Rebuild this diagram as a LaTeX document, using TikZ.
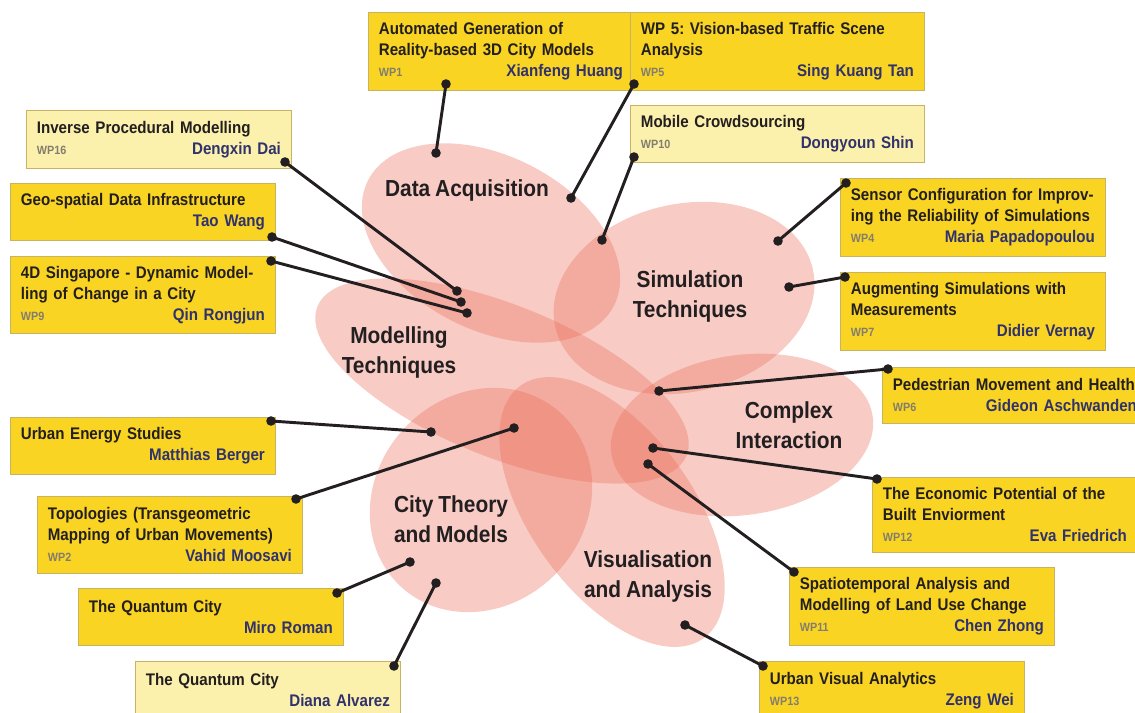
\documentclass[tikz,border=0pt]{standalone}
\usepackage{fontspec}
\setmainfont{Liberation Sans}[FakeStretch=0.9, WordSpace=0.85]
\frenchspacing
\definecolor{ybright}{RGB}{249,212,35}
\definecolor{ylight}{RGB}{252,241,172}
\definecolor{yborder}{RGB}{200,178,100}
\definecolor{navyc}{RGB}{48,50,110}
\definecolor{wpgray}{RGB}{130,125,110}
\definecolor{blobc}{RGB}{236,110,90}
\definecolor{ink}{RGB}{35,31,32}
\newcommand\wplabel[1]{{\color{wpgray}\fontsize{9}{10}\selectfont #1}}
\newcommand\wpname[1]{{\color{navyc}#1}}
\tikzset{
  blob/.style={fill=blobc, fill opacity=0.35},
  ybox/.style={draw=yborder, line width=0.6pt, fill=ybright, anchor=north west,
    inner xsep=7.875pt, inner ysep=0pt, align=left, text=ink,
    font=\fontsize{12.6}{15.75}\selectfont\bfseries\frenchspacing},
  lbox/.style={ybox, fill=ylight},
  wA/.style={minimum width=198.75pt, text width=183pt},
  wB/.style={minimum width=220.5pt, text width=204.75pt},
  lab/.style={align=center, text=ink, font=\fontsize{17.4}{22.5}\selectfont\bfseries},
  dot/.style={circle, fill=ink, inner sep=0pt, minimum size=7.2pt},
  conn/.style={draw=ink, line width=2.2pt},
}
\begin{document}
\begin{tikzpicture}[x=0.75pt,y=-0.75pt]
\useasboundingbox (0,0) rectangle (1135,713);
\fill[white] (0,0) rectangle (1135,713);

% topic ellipses
\fill[blob, rotate around={-27:(491,243)}] (491,243) ellipse [x radius=138, y radius=87];
\fill[blob, rotate around={12.7:(684,298)}] (684,298) ellipse [x radius=132, y radius=94];
\fill[blob, rotate around={-22:(502,381)}] (502,381) ellipse [x radius=199, y radius=76];
\fill[blob, rotate around={8:(742,435)}] (742,435) ellipse [x radius=132, y radius=80];
\fill[blob, rotate around={47:(481,500)}] (481,500) ellipse [x radius=118, y radius=105];
\fill[blob, rotate around={-54:(612,512)}] (612,512) ellipse [x radius=156, y radius=81];

% topic labels
\node[lab] (tda) at (467,191) {Data Acquisition};
\node[lab] (tst) at (690,296) {Simulation\\Techniques};
\node[lab] (tmt) at (399,352) {Modelling\\Techniques};
\node[lab] (tci) at (789,425) {Complex\\Interaction};
\node[lab] (tct) at (451,519) {City Theory\\and Models};
\node[lab] (tva) at (648,576) {Visualisation\\and Analysis};

% boxes
\node[ybox,wA,minimum height=58.5pt] (b1) at (368,12) {Automated Generation of\\Reality-based 3D City Models\\\wplabel{WP1}\hfill\wpname{Xianfeng Huang}};
\node[ybox,wB,minimum height=58.5pt] (b5) at (630,12) {WP 5: Vision-based Traffic Scene\\Analysis\\\wplabel{WP5}\hfill\wpname{Sing Kuang Tan}};
\node[lbox,wB,minimum height=42.75pt] (b10) at (630,105) {Mobile Crowdsourcing\\\wplabel{WP10}\hfill\wpname{Dongyoun Shin}};
\node[lbox,wA,minimum height=43.5pt] (b16) at (26,110) {Inverse Procedural Modelling\\\wplabel{WP16}\hfill\wpname{Dengxin Dai}};
\node[ybox,wA,minimum height=42.75pt] (bgeo) at (10,183) {Geo-spatial Data Infrastructure\\\mbox{}\hfill\wpname{Tao Wang}};
\node[ybox,wA,minimum height=57.75pt] (b9) at (10,256) {4D Singapore - Dynamic Model-\\ling of Change in a City\\\wplabel{WP9}\hfill\wpname{Qin Rongjun}};
\node[ybox,wA,minimum height=58.5pt] (b4) at (840,178) {Sensor Configuration for Improv-\\ing the Reliability of Simulations\\\wplabel{WP4}\hfill\wpname{Maria Papadopoulou}};
\node[ybox,wA,minimum height=58.5pt] (b7) at (840,272) {Augmenting Simulations with\\Measurements\\\wplabel{WP7}\hfill\wpname{Didier Vernay}};
\node[ybox,wA,minimum height=42pt] (b6) at (882,367) {Pedestrian Movement and Health\\\wplabel{WP6}\hfill\wpname{Gideon Aschwanden}};
\node[ybox,wA,minimum height=56.25pt] (b12) at (872,477) {The Economic Potential of the\\Built Enviorment\\\wplabel{WP12}\hfill\wpname{Eva Friedrich}};
\node[ybox,wA,minimum height=58.5pt] (b11) at (789,567) {Spatiotemporal Analysis and\\Modelling of Land Use Change\\\wplabel{WP11}\hfill\wpname{Chen Zhong}};
\node[ybox,wA,minimum height=43.5pt] (b13) at (759,661) {Urban Visual Analytics\\\wplabel{WP13}\hfill\wpname{Zeng Wei}};
\node[ybox,wA,minimum height=42.75pt] (ben) at (10,417) {Urban Energy Studies\\\mbox{}\hfill\wpname{Matthias Berger}};
\node[ybox,wA,minimum height=57.75pt] (b2) at (37,496) {Topologies (Transgeometric\\Mapping of Urban Movements)\\\wplabel{WP2}\hfill\wpname{Vahid Moosavi}};
\node[ybox,wA,minimum height=42.75pt] (bmr) at (78,588) {The Quantum City\\\mbox{}\hfill\wpname{Miro Roman}};
\node[lbox,wA,minimum height=43.5pt] (bda) at (135,661) {The Quantum City\\\mbox{}\hfill\wpname{Diana Alvarez}};

% dots
\node[dot] (d1a) at (446,84) {};   \node[dot] (d1b) at (436,153) {};
\node[dot] (d5a) at (634,84) {};   \node[dot] (d5b) at (571,198) {};
\node[dot] (d10a) at (634,157) {}; \node[dot] (d10b) at (602,240) {};
\node[dot] (d16a) at (285,162) {}; \node[dot] (d16b) at (457,291) {};
\node[dot] (dgea) at (272,237) {}; \node[dot] (dgeb) at (461,302) {};
\node[dot] (d9a) at (271,261) {};  \node[dot] (d9b) at (467,313) {};
\node[dot] (d4a) at (846,183) {};  \node[dot] (d4b) at (778,241) {};
\node[dot] (d7a) at (845,277) {};  \node[dot] (d7b) at (789,287) {};
\node[dot] (d6a) at (888,369) {};  \node[dot] (d6b) at (659,391) {};
\node[dot] (d12a) at (877,479) {}; \node[dot] (d12b) at (653,448) {};
\node[dot] (d11a) at (794,572) {}; \node[dot] (d11b) at (648,464) {};
\node[dot] (d13a) at (763,666) {}; \node[dot] (d13b) at (685,625) {};
\node[dot] (dena) at (271,421) {}; \node[dot] (denb) at (431,432) {};
\node[dot] (d2a) at (296,499) {};  \node[dot] (d2b) at (514,428) {};
\node[dot] (dmra) at (337,593) {}; \node[dot] (dmrb) at (410,562) {};
\node[dot] (ddaa) at (394,666) {}; \node[dot] (ddab) at (436,583) {};

% connectors
\foreach \p in {d1,d5,d10,d16,dge,d9,d4,d7,d6,d12,d11,d13,den,d2,dmr,dda}
  \draw[conn] (\p a.center) -- (\p b.center);
\end{tikzpicture}
\end{document}
